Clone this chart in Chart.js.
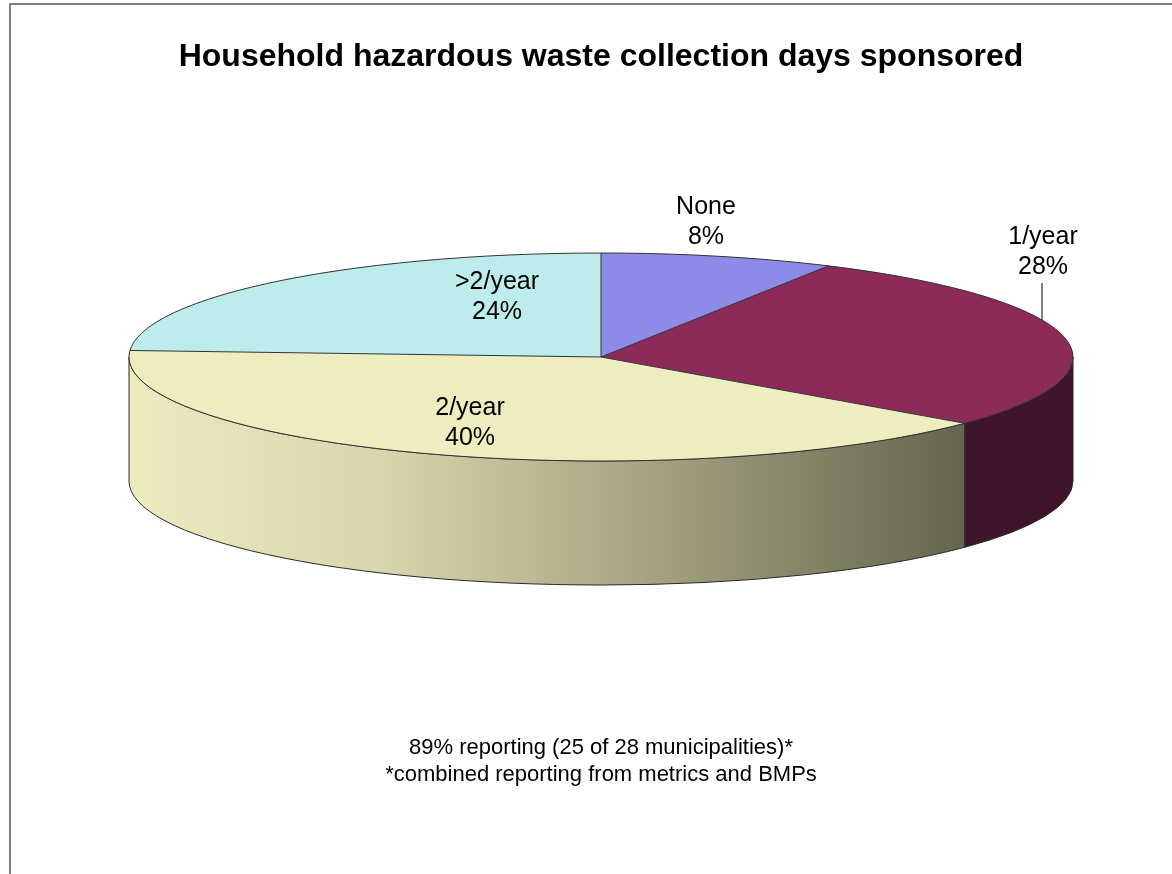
<!DOCTYPE html>
<html>
<head>
<meta charset="utf-8">
<script src="https://cdn.jsdelivr.net/npm/chart.js@4.4.1/dist/chart.umd.min.js"></script>
<style>
html, body { margin: 0; padding: 0; background: #fff; }
canvas { display: block; }
</style>
</head>
<body>
<canvas id="chart" width="1172" height="874"></canvas>
<script>
// data
const categories = ['None', '1/year', '2/year', '>2/year'];
const shares = [8, 28, 40, 24];
const footnotes = ['89% reporting (25 of 28 municipalities)*', '*combined reporting from metrics and BMPs'];

// look
const topColors = ['#8c8ce8', '#8c2b5a', '#ededbf', '#bdecec'];
const sideColors = ['#5c5ca6', '#40142a', 'gradient', '#86b4b4'];
const pie3d = { cx: 601, cy: 357, rx: 472, ry: 104, depth: 124 };
const labelPos = [[706, 207], [1043, 237], [470, 408], [497, 282]];
const FONT = '"Liberation Sans", Arial, sans-serif';

const tiltPlugin = {
  id: 'tilt',
  beforeDraw(chart) {
    const ctx = chart.ctx;
    ctx.save();
    ctx.fillStyle = '#fff';
    ctx.fillRect(0, 0, chart.width, chart.height);
    ctx.strokeStyle = '#7f7f7f';
    ctx.lineWidth = 2;
    ctx.beginPath();
    ctx.moveTo(10, chart.height);
    ctx.lineTo(10, 4);
    ctx.lineTo(chart.width, 4);
    ctx.stroke();
    ctx.restore();
  },
  beforeDatasetsDraw(chart) {
    const ctx = chart.ctx;
    const meta = chart.getDatasetMeta(0);
    const { cx, cy, rx, ry, depth } = pie3d;
    // side walls of the front half
    meta.data.forEach((arc, i) => {
      [0, -2 * Math.PI, 2 * Math.PI].forEach(shift => {
        const a1 = Math.max(arc.startAngle + shift, 0);
        const a2 = Math.min(arc.endAngle + shift, Math.PI);
        if (a2 <= a1) return;
        ctx.save();
        ctx.beginPath();
        ctx.ellipse(cx, cy, rx, ry, 0, a1, a2);
        ctx.ellipse(cx, cy + depth, rx, ry, 0, a2, a1, true);
        ctx.closePath();
        if (sideColors[i] === 'gradient') {
          const g = ctx.createLinearGradient(cx - rx, 0, cx + rx * Math.cos(a1), 0);
          g.addColorStop(0, '#ececbf');
          g.addColorStop(0.3, '#d8d6ac');
          g.addColorStop(0.6, '#a9a684');
          g.addColorStop(1, '#65654f');
          ctx.fillStyle = g;
        } else {
          ctx.fillStyle = sideColors[i];
        }
        ctx.fill();
        ctx.strokeStyle = '#2a2a2a';
        ctx.lineWidth = 1;
        ctx.stroke();
        ctx.restore();
      });
    });
    // squash the library's round pie into the tilted ellipse
    const a0 = meta.data[0];
    ctx.save();
    ctx.translate(cx, cy);
    ctx.scale(rx / a0.outerRadius, ry / a0.outerRadius);
    ctx.translate(-a0.x, -a0.y);
  },
  afterDatasetsDraw(chart) {
    const ctx = chart.ctx;
    const meta = chart.getDatasetMeta(0);
    const { cx, cy, rx, ry } = pie3d;
    ctx.restore();
    ctx.save();
    ctx.strokeStyle = '#333';
    ctx.lineWidth = 1;
    ctx.beginPath();
    ctx.ellipse(cx, cy, rx, ry, 0, 0, 2 * Math.PI);
    ctx.stroke();
    meta.data.forEach(arc => {
      ctx.beginPath();
      ctx.moveTo(cx, cy);
      ctx.lineTo(cx + rx * Math.cos(arc.startAngle), cy + ry * Math.sin(arc.startAngle));
      ctx.stroke();
    });
    // labels
    ctx.fillStyle = '#000';
    ctx.font = '25px ' + FONT;
    ctx.textAlign = 'center';
    ctx.textBaseline = 'middle';
    categories.forEach((c, i) => {
      const [x, y] = labelPos[i];
      ctx.fillText(c, x, y);
      ctx.fillText(shares[i] + '%', x, y + 30);
    });
    // leader line for 1/year
    const lx = 1042;
    const ey = cy - ry * Math.sqrt(1 - Math.pow((lx - cx) / rx, 2));
    ctx.strokeStyle = '#000';
    ctx.beginPath();
    ctx.moveTo(lx, 283);
    ctx.lineTo(lx, ey);
    ctx.stroke();
    ctx.restore();
  }
};

new Chart(document.getElementById('chart'), {
  type: 'pie',
  data: {
    labels: categories,
    datasets: [{ data: shares, backgroundColor: topColors, borderWidth: 0 }]
  },
  options: {
    responsive: false,
    animation: false,
    layout: { padding: { left: 30 } },
    plugins: {
      legend: { display: false },
      tooltip: { enabled: false },
      title: {
        display: true,
        text: 'Household hazardous waste collection days sponsored',
        color: '#000',
        font: { family: FONT, size: 32, weight: 'bold', lineHeight: 1.2 },
        padding: { top: 38, bottom: 0 }
      },
      subtitle: {
        display: true,
        position: 'bottom',
        text: footnotes,
        color: '#000',
        font: { family: FONT, size: 22, lineHeight: 1.2 },
        padding: { top: 0, bottom: 86 }
      }
    }
  },
  plugins: [tiltPlugin]
});
</script>
</body>
</html>
